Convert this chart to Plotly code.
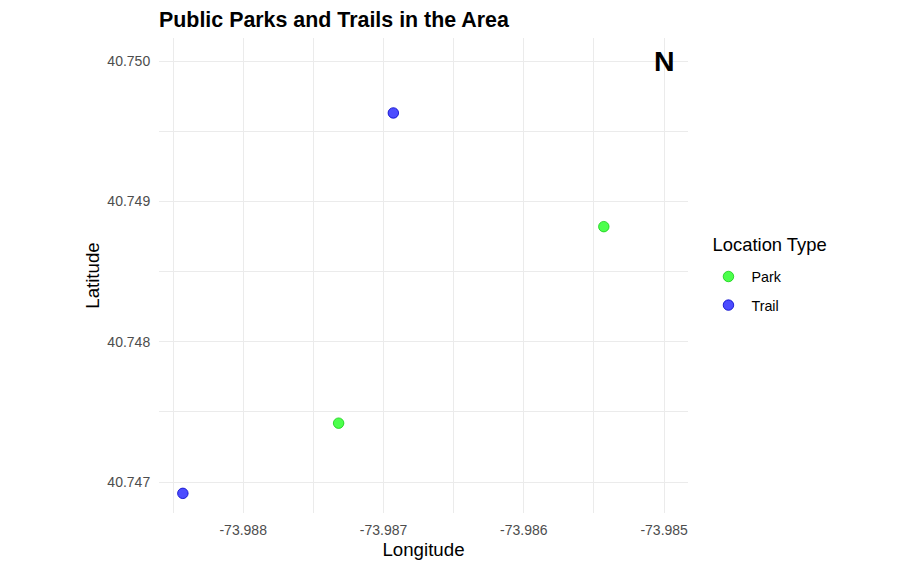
import plotly.graph_objects as go

park_lon = [-73.98543, -73.98732]
park_lat = [40.74882, 40.74742]
trail_lon = [-73.98693, -73.98843]
trail_lat = [40.74963, 40.74692]
x_ticks = [-73.988, -73.987, -73.986, -73.985]
y_ticks = [40.747, 40.748, 40.749, 40.750]

FONT = "Liberation Sans"
GRID = "#ebebeb"

fig = go.Figure()
for name, lon, lat, fill, edge in [
    ("Park", park_lon, park_lat, "rgba(0,255,0,0.7)", "rgba(0,200,0,0.7)"),
    ("Trail", trail_lon, trail_lat, "rgba(0,0,255,0.7)", "rgba(0,0,200,0.8)"),
]:
    fig.add_trace(go.Scatter(
        x=lon, y=lat, mode="markers", name=name, legendgroup=name,
        marker=dict(size=10.5, color=fill, line=dict(color=edge, width=1)),
    ))

axis = dict(
    showline=False, zeroline=False, ticks="outside",
    tickcolor="rgba(0,0,0,0)", gridcolor=GRID, gridwidth=1.1,
    tickfont=dict(family=FONT, size=14, color="#4d4d4d"),
    minor=dict(showgrid=True, gridcolor=GRID, gridwidth=0.8, dtick=0.0005, ticks=""),
)
fig.update_layout(
    width=921, height=569, autosize=False,
    paper_bgcolor="white", plot_bgcolor="white",
    margin=dict(l=151, r=241, t=30, b=64),
    font=dict(family=FONT, color="black"),
    title=dict(text="<b>Public Parks and Trails in the Area</b>",
               font=dict(family=FONT, size=21.4, color="black"),
               x=151 / 921, xanchor="left", y=1 - 11 / 569, yanchor="middle"),
    xaxis=dict(axis, ticklen=4, range=[-73.98860, -73.98483], tickvals=x_ticks,
               ticktext=[f"{v:.3f}" for v in x_ticks],
               title=dict(text="Longitude", font=dict(family=FONT, size=18.7, color="black"), standoff=6)),
    yaxis=dict(axis, ticklen=5, range=[40.74678, 40.750164], tickvals=y_ticks,
               ticktext=[f"{v:.3f}" for v in y_ticks],
               title=dict(text="Latitude", font=dict(family=FONT, size=18.7, color="black"), standoff=2)),
    legend=dict(title=dict(text='\u00a0<br><span style="font-size:18.4px">\u00a0Location Type</span><br>\u00a0',
                           font=dict(family=FONT, size=7.5, color="black")),
                font=dict(family=FONT, size=14.3, color="black"),
                x=1.033, xref="paper", xanchor="left", y=0.498, yanchor="middle",
                itemsizing="trace", itemwidth=36, tracegroupgap=7),
    annotations=[dict(x=-73.985, y=40.750, text="<b>N</b>", showarrow=False,
                      font=dict(family=FONT, size=28.5, color="black"))],
)
fig.write_html("out.html")
